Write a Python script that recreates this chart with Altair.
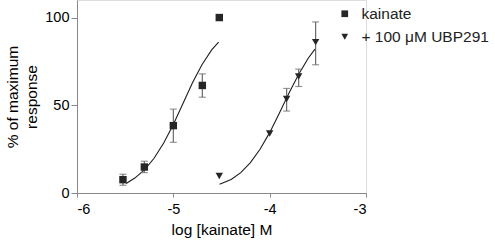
import altair as alt
import pandas as pd

# ---- data ----
series_names = ["kainate", "+ 100 \u03bcM UBP291"]

kainate_x = [-5.523, -5.301, -5.0, -4.699, -4.523]
kainate_y = [7.6, 14.8, 38.4, 61.3, 100.0]
kainate_lo = [4.4, 11.6, 28.9, 54.6, None]
kainate_hi = [10.7, 18.1, 47.8, 67.9, None]

ubp_x = [-4.523, -4.0, -3.824, -3.699, -3.523]
ubp_y = [9.7, 33.9, 53.6, 66.4, 86.0]
ubp_lo = [None, None, 46.7, 60.7, 73.1]
ubp_hi = [None, None, 59.6, 70.6, 97.5]

# fitted curves, points
kainate_curve_x = [-5.49, -5.4, -5.3, -5.2, -5.1, -5.0, -4.9, -4.8, -4.7, -4.6, -4.53]
kainate_curve_y = [5.4, 8.5, 13.2, 19.8, 28.5, 39.0, 51.0, 63.0, 73.4, 81.7, 86.0]

ubp_curve_x = [-4.52, -4.4, -4.3, -4.2, -4.1, -4.0, -3.9, -3.8, -3.7, -3.6, -3.53]
ubp_curve_y = [5.0, 7.7, 11.6, 17.3, 24.9, 34.4, 45.4, 56.9, 67.6, 76.8, 82.0]

x_ticks = [-6, -5, -4, -3]
y_ticks = [0, 50, 100]

# ---- tables ----
pts = pd.DataFrame({
    "x": kainate_x + ubp_x,
    "y": kainate_y + ubp_y,
    "lo": kainate_lo + ubp_lo,
    "hi": kainate_hi + ubp_hi,
    "series": [series_names[0]] * len(kainate_x) + [series_names[1]] * len(ubp_x),
})
err = pts.dropna(subset=["lo", "hi"])
curves = pd.DataFrame({
    "x": kainate_curve_x + ubp_curve_x,
    "y": kainate_curve_y + ubp_curve_y,
    "series": [series_names[0]] * len(kainate_curve_x) + [series_names[1]] * len(ubp_curve_x),
})

FONT = "Liberation Sans"
xs = alt.Scale(domain=[-6, -3], nice=False, zero=False)
ys = alt.Scale(domain=[0, 110], nice=False, zero=False)

X = alt.X("x:Q", scale=xs, axis=alt.Axis(
    values=x_ticks, title="log [kainate] M", labelExpr="'' + datum.value",
    labelFontSize=14.5, titleFontSize=15.5, titleFontWeight="normal",
    tickSize=4, labelPadding=5, titlePadding=7, grid=False,
))
Y = alt.Y("y:Q", scale=ys, axis=alt.Axis(
    values=y_ticks, title=["% of maximum", "response"],
    labelFontSize=14.5, titleFontSize=15.5, titleFontWeight="normal",
    tickSize=6, labelPadding=2, titlePadding=5, grid=False, titleLineHeight=19,
))

curve = alt.Chart(curves).mark_line(color="#1e1e1e", strokeWidth=1.1).encode(
    x=X, y=Y, detail="series:N"
)

rules = alt.Chart(err).mark_rule(color="#6a6a6a", strokeWidth=1.2).encode(
    x="x:Q", y="lo:Q", y2="hi:Q"
)
cap_lo = alt.Chart(err).mark_tick(color="#6a6a6a", size=7, thickness=1.2, orient="horizontal").encode(
    x="x:Q", y="lo:Q"
)
cap_hi = alt.Chart(err).mark_tick(color="#6a6a6a", size=7, thickness=1.2, orient="horizontal").encode(
    x="x:Q", y="hi:Q"
)

points = alt.Chart(pts).mark_point(filled=True, color="#262626", opacity=1, size=55).encode(
    x="x:Q", y="y:Q",
    shape=alt.Shape("series:N", sort=series_names,
                    scale=alt.Scale(domain=series_names, range=["square", "triangle-down"]),
                    legend=alt.Legend(
                        title=None, orient="none", legendX=260, legendY=6,
                        labelFontSize=15.5, labelFont=FONT, labelColor="#222",
                        symbolSize=45, symbolFillColor="#262626", symbolStrokeColor="#262626",
                        symbolStrokeWidth=0, labelOffset=9, rowPadding=6, padding=0,
                    )),
)

chart = alt.layer(curve, rules, cap_lo, cap_hi, points).properties(
    width=289, height=193,
    autosize=alt.AutoSizeParams(type="none"),
    padding={"left": 77, "top": 0, "right": 129, "bottom": 47},
).configure_view(stroke=None).configure_axis(
    labelFont=FONT, titleFont=FONT, labelColor="#222", titleColor="#222",
    domainColor="#7a7a7a", tickColor="#7a7a7a", domainWidth=1.2, tickWidth=1.2,
).configure(background="white")

chart.save("out.html", embed_options={"renderer": "svg", "actions": False})
